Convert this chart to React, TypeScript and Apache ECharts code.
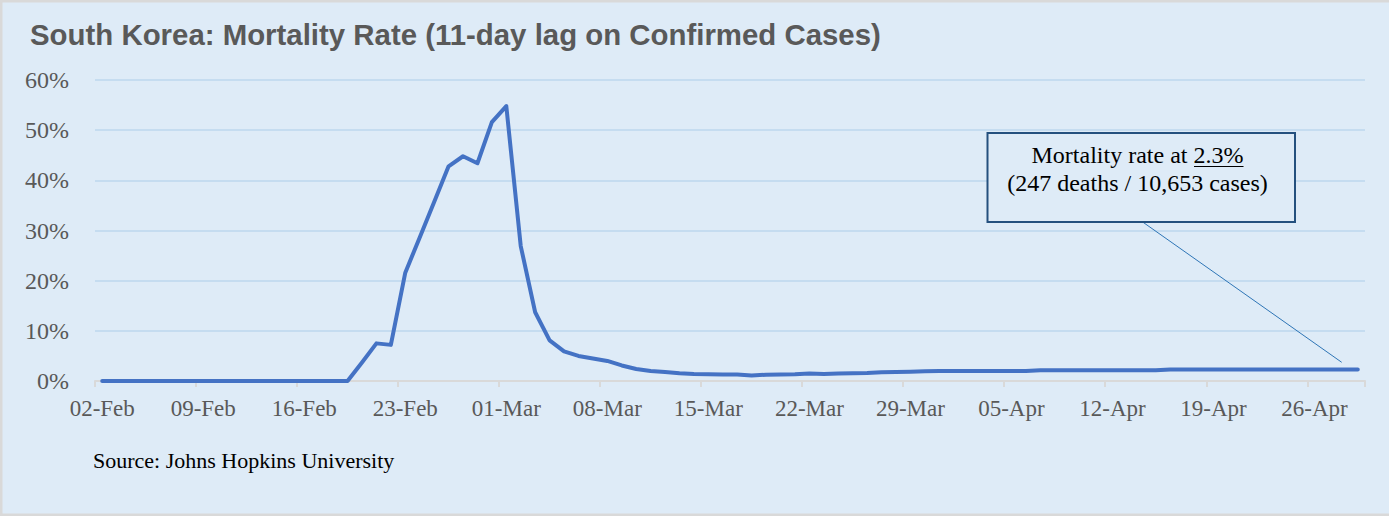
import React, { useEffect, useRef } from "react";
import * as echarts from "echarts";

// ---- data ----
const MONTHS = ["Jan", "Feb", "Mar", "Apr", "May", "Jun", "Jul", "Aug", "Sep", "Oct", "Nov", "Dec"];
const DAY_COUNT = 88; // 02-Feb-2020 .. 29-Apr-2020
const dateLabels: string[] = [];
for (let i = 0; i < DAY_COUNT; i++) {
  const d = new Date(Date.UTC(2020, 1, 2 + i));
  dateLabels.push(String(d.getUTCDate()).padStart(2, "0") + "-" + MONTHS[d.getUTCMonth()]);
}

// mortality rate in % (deaths / confirmed cases 11 days earlier)
const mortalityPct = [
  0, 0, 0, 0, 0, 0, 0, 0, 0, 0,
  0, 0, 0, 0, 0, 0, 0, 0, 3.7, 7.5,
  7.2, 21.6, 28.6, 35.7, 42.8, 44.8, 43.4, 51.6, 54.8, 26.9,
  13.7, 8.1, 5.9, 5.0, 4.5, 4.0, 3.1, 2.4, 2.0, 1.8,
  1.55, 1.4, 1.35, 1.3, 1.3, 1.1, 1.25, 1.3, 1.35, 1.5,
  1.4, 1.5, 1.55, 1.6, 1.75, 1.8, 1.85, 1.95, 2.0, 2.0,
  2.0, 2.0, 2.0, 2.0, 2.0, 2.15, 2.15, 2.15, 2.15, 2.15,
  2.15, 2.15, 2.15, 2.15, 2.3, 2.3, 2.3, 2.3, 2.3, 2.3,
  2.3, 2.3, 2.3, 2.3, 2.3, 2.3, 2.3, 2.3,
];

const yTicks = [0, 10, 20, 30, 40, 50, 60];

const TITLE = "South Korea: Mortality Rate (11-day lag on Confirmed Cases)";
const SOURCE = "Source: Johns Hopkins University";
const NOTE_PREFIX = "Mortality rate at ";
const NOTE_VALUE = "2.3%";
const NOTE_LINE2 = "(247 deaths / 10,653 cases)";

const SERIF = "'Liberation Serif', 'Times New Roman', serif";
const SANS = "'Liberation Sans', Arial, sans-serif";
const BG = "#deebf7";
const AXIS_GRAY = "#595959";

export default function App() {
  const ref = useRef<HTMLDivElement>(null);

  useEffect(() => {
    if (!ref.current) return;
    const chart = echarts.init(ref.current, undefined, { renderer: "svg" });

    const option: any = {
      animation: false,
      backgroundColor: BG,
      grid: { left: 95, right: 24, top: 80, bottom: 135, containLabel: false },
      xAxis: {
        type: "category",
        data: dateLabels,
        boundaryGap: true,
        axisLine: { show: true, lineStyle: { color: "#d9d9d9", width: 2 } },
        axisTick: { show: true, interval: 6, length: 6, lineStyle: { color: "#d9d9d9", width: 2 } },
        axisLabel: {
          interval: 6,
          fontFamily: SERIF,
          fontSize: 23,
          color: AXIS_GRAY,
          margin: 16,
        },
        splitLine: { show: false },
      },
      yAxis: {
        type: "value",
        min: yTicks[0],
        max: yTicks[yTicks.length - 1],
        interval: 10,
        axisLine: { show: false },
        axisTick: { show: false },
        axisLabel: {
          fontFamily: SERIF,
          fontSize: 24,
          color: AXIS_GRAY,
          margin: 26,
          formatter: (v: number) => `${v}%`,
        },
        splitLine: { show: true, lineStyle: { color: "#bdd7ee", width: 1.5 } },
      },
      series: [
        {
          type: "line",
          data: mortalityPct,
          showSymbol: false,
          symbol: "none",
          smooth: false,
          lineStyle: { color: "#4472c4", width: 4, cap: "round", join: "round" },
          z: 3,
        },
      ],
      graphic: [
        // outer border
        {
          type: "rect",
          z: 100,
          silent: true,
          shape: { x: 1.25, y: 1.25, width: 1400, height: 513.5 },
          style: { fill: "none", stroke: "#d9d9d9", lineWidth: 2.5 },
        },
        // title
        {
          type: "text",
          z: 100,
          x: 30,
          y: 34,
          style: {
            text: TITLE,
            fontFamily: SANS,
            fontWeight: "bold",
            fontSize: 29.4,
            fill: "#595959",
            textAlign: "left",
            textVerticalAlign: "middle",
          },
        },
        // source
        {
          type: "text",
          z: 100,
          x: 93,
          y: 460,
          style: {
            text: SOURCE,
            fontFamily: SERIF,
            fontSize: 22,
            fill: "#000000",
            textAlign: "left",
            textVerticalAlign: "middle",
          },
        },
        // leader line
        {
          type: "line",
          z: 90,
          shape: { x1: 1142.7, y1: 222, x2: 1341.7, y2: 362.3 },
          style: { stroke: "#2e75b6", lineWidth: 1 },
        },
        // annotation box
        {
          type: "rect",
          z: 95,
          shape: { x: 987.5, y: 133, width: 307.5, height: 89 },
          style: { fill: BG, stroke: "#24507e", lineWidth: 2 },
        },
        {
          type: "text",
          z: 96,
          x: 1137.5,
          y: 155.2,
          style: {
            text: NOTE_PREFIX + NOTE_VALUE,
            fontFamily: SERIF,
            fontSize: 24,
            fill: "#000000",
            textAlign: "center",
            textVerticalAlign: "middle",
          },
        },
        // underline of the value
        {
          type: "line",
          z: 96,
          shape: { x1: 1194, y1: 166.5, x2: 1243.5, y2: 166.5 },
          style: { stroke: "#000000", lineWidth: 1.2 },
        },
        {
          type: "text",
          z: 96,
          x: 1137.5,
          y: 183.4,
          style: {
            text: NOTE_LINE2,
            fontFamily: SERIF,
            fontSize: 24,
            fill: "#000000",
            textAlign: "center",
            textVerticalAlign: "middle",
          },
        },
      ],
    };

    chart.setOption(option);
    return () => chart.dispose();
  }, []);

  return (
    <div
      ref={ref}
      style={{ position: "fixed", left: 0, top: 0, width: 1389, height: 516 }}
    />
  );
}
